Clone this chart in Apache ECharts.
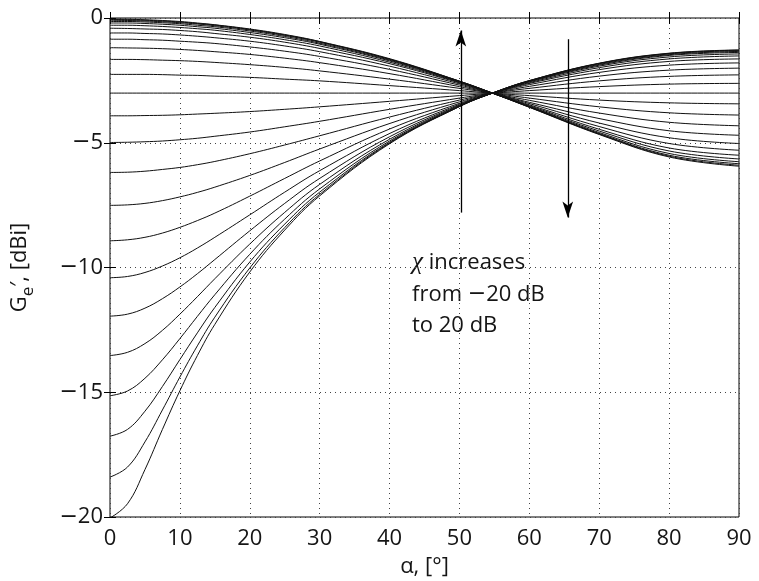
<!DOCTYPE html>
<html>
<head>
<meta charset="utf-8">
<script src="https://cdn.jsdelivr.net/npm/echarts@6/dist/echarts.min.js"></script>
<style>html,body{margin:0;padding:0;background:#fff}#c{width:759px;height:581px}</style>
</head>
<body>
<div id="c"></div>
<script>
// alpha sample points (degrees)
const alpha = [0, 2.5, 5, 7.5, 10, 12.5, 15, 20, 25, 30, 40, 50, 55, 60, 70, 80, 90];
// chi values in dB, one per curve
const chiDb = [-20, -18.3, -16.7, -15, -13.3, -11.7, -10, -8.3, -6.7, -5, -3.3, -1.7, 0,
               1.7, 3.3, 5, 6.7, 8.3, 10, 11.7, 13.3, 15, 16.7, 18.3, 20];
// G_e' values [dBi], one array per curve
const gM20_0 = [-20.04, -19.47, -18.10, -16.49, -14.94, -13.53, -12.28, -10.18, -8.50, -7.13, -5.04, -3.55, -2.98, -2.51, -1.81, -1.41, -1.28];
const gM18_3 = [-18.40, -18.00, -16.99, -15.71, -14.39, -13.14, -11.99, -10.02, -8.40, -7.07, -5.01, -3.55, -2.98, -2.51, -1.82, -1.42, -1.29];
const gM16_7 = [-16.76, -16.49, -15.76, -14.77, -13.69, -12.62, -11.60, -9.78, -8.26, -6.98, -4.98, -3.54, -2.98, -2.52, -1.83, -1.44, -1.31];
const gM15_0 = [-15.14, -14.95, -14.44, -13.70, -12.85, -11.96, -11.09, -9.47, -8.06, -6.85, -4.93, -3.53, -2.98, -2.53, -1.86, -1.47, -1.34];
const gM13_3 = [-13.53, -13.40, -13.05, -12.52, -11.87, -11.17, -10.45, -9.06, -7.79, -6.67, -4.86, -3.51, -2.98, -2.54, -1.89, -1.50, -1.38];
const gM11_7 = [-11.95, -11.87, -11.63, -11.25, -10.78, -10.25, -9.68, -8.53, -7.43, -6.43, -4.76, -3.49, -2.99, -2.56, -1.93, -1.56, -1.44];
const gM10_0 = [-10.41, -10.36, -10.20, -9.94, -9.61, -9.22, -8.79, -7.89, -6.98, -6.12, -4.63, -3.46, -2.99, -2.59, -1.99, -1.64, -1.52];
const gM08_3 = [-8.93, -8.89, -8.79, -8.62, -8.39, -8.12, -7.82, -7.14, -6.43, -5.73, -4.45, -3.42, -2.99, -2.62, -2.07, -1.74, -1.64];
const gM06_7 = [-7.51, -7.49, -7.43, -7.32, -7.17, -6.99, -6.78, -6.31, -5.79, -5.25, -4.23, -3.36, -2.99, -2.67, -2.18, -1.89, -1.80];
const gM05_0 = [-6.19, -6.18, -6.14, -6.07, -5.99, -5.88, -5.75, -5.44, -5.09, -4.72, -3.97, -3.29, -3.00, -2.74, -2.33, -2.09, -2.01];
const gM03_3 = [-4.99, -4.98, -4.96, -4.93, -4.88, -4.82, -4.74, -4.57, -4.36, -4.14, -3.66, -3.21, -3.00, -2.82, -2.52, -2.34, -2.28];
const gM01_7 = [-3.92, -3.92, -3.91, -3.90, -3.88, -3.85, -3.82, -3.75, -3.66, -3.56, -3.34, -3.11, -3.01, -2.91, -2.75, -2.65, -2.62];
const gP00_0 = [-3.01, -3.01, -3.01, -3.01, -3.01, -3.01, -3.01, -3.01, -3.01, -3.01, -3.01, -3.01, -3.01, -3.01, -3.01, -3.01, -3.01];
const gP01_7 = [-2.26, -2.26, -2.26, -2.27, -2.29, -2.30, -2.33, -2.38, -2.45, -2.52, -2.71, -2.91, -3.02, -3.11, -3.29, -3.40, -3.44];
const gP03_3 = [-1.66, -1.66, -1.67, -1.69, -1.71, -1.74, -1.78, -1.87, -1.98, -2.12, -2.45, -2.82, -3.02, -3.21, -3.56, -3.80, -3.89];
const gP05_0 = [-1.19, -1.20, -1.21, -1.23, -1.26, -1.30, -1.35, -1.46, -1.61, -1.79, -2.23, -2.75, -3.03, -3.30, -3.81, -4.18, -4.32];
const gP06_7 = [-0.85, -0.85, -0.87, -0.89, -0.93, -0.97, -1.02, -1.16, -1.33, -1.54, -2.06, -2.69, -3.03, -3.38, -4.03, -4.52, -4.70];
const gP08_3 = [-0.60, -0.60, -0.62, -0.64, -0.68, -0.73, -0.79, -0.93, -1.12, -1.35, -1.93, -2.64, -3.03, -3.43, -4.21, -4.80, -5.03];
const gP10_0 = [-0.41, -0.42, -0.44, -0.46, -0.50, -0.55, -0.62, -0.77, -0.97, -1.22, -1.83, -2.60, -3.03, -3.48, -4.35, -5.03, -5.30];
const gP11_7 = [-0.29, -0.29, -0.31, -0.34, -0.38, -0.43, -0.49, -0.66, -0.87, -1.12, -1.77, -2.58, -3.04, -3.51, -4.46, -5.21, -5.50];
const gP13_3 = [-0.20, -0.20, -0.22, -0.25, -0.29, -0.35, -0.41, -0.58, -0.79, -1.05, -1.72, -2.56, -3.04, -3.54, -4.53, -5.33, -5.65];
const gP15_0 = [-0.14, -0.14, -0.16, -0.19, -0.23, -0.29, -0.35, -0.52, -0.74, -1.01, -1.69, -2.55, -3.04, -3.55, -4.59, -5.43, -5.76];
const gP16_7 = [-0.09, -0.10, -0.12, -0.15, -0.19, -0.24, -0.31, -0.48, -0.70, -0.97, -1.66, -2.54, -3.04, -3.57, -4.63, -5.50, -5.84];
const gP18_3 = [-0.06, -0.07, -0.09, -0.12, -0.16, -0.22, -0.28, -0.46, -0.68, -0.95, -1.65, -2.53, -3.04, -3.57, -4.65, -5.54, -5.90];
const gP20_0 = [-0.04, -0.05, -0.07, -0.10, -0.14, -0.20, -0.27, -0.44, -0.66, -0.94, -1.63, -2.53, -3.04, -3.58, -4.67, -5.57, -5.94];
const curves = [gM20_0, gM18_3, gM16_7, gM15_0, gM13_3, gM11_7, gM10_0, gM08_3, gM06_7, gM05_0, gM03_3, gM01_7,
                gP00_0, gP01_7, gP03_3, gP05_0, gP06_7, gP08_3, gP10_0, gP11_7, gP13_3, gP15_0, gP16_7, gP18_3, gP20_0];
const xTicks = [0, 10, 20, 30, 40, 50, 60, 70, 80, 90];
const yTicks = [-20, -15, -10, -5, 0];

const FONT = 'Open Sans';
const FS = 22;
const TXT = '#151515';
// negative numbers drawn with a long minus sign
const fmt = v => (v < 0 ? '{m|\u2212}' + Math.abs(v) : String(v));
const minusRich = { m: { fontFamily: 'DejaVu Sans', fontSize: FS, color: TXT } };

const series = curves.map((vals, i) => ({
  type: 'line',
  name: 'chi ' + chiDb[i] + ' dB',
  data: alpha.map((a, j) => [a, vals[j]]),
  showSymbol: false,
  smooth: 0.4,
  lineStyle: { color: '#111', width: 1 },
  silent: true,
  z: 3
}));

series.push({
  type: 'line', data: [], silent: true,
  markLine: {
    silent: true, animation: false,
    symbol: ['none', 'arrow'], symbolSize: [8, 16],
    label: { show: false },
    lineStyle: { color: '#000', width: 1.3, type: 'solid' },
    data: [
      [{ coord: [50.2, -7.8] }, { coord: [50.2, -0.5] }],
      [{ coord: [65.5, -0.85] }, { coord: [65.5, -8.0] }]
    ]
  }
});

const chart = echarts.init(document.getElementById('c'), null, { renderer: 'canvas' });
chart.setOption({
  animation: false,
  backgroundColor: '#fff',
  grid: { left: 110, right: 20, top: 18, bottom: 64, outerBoundsMode: 'none', containLabel: false,
          show: true, borderColor: '#000', borderWidth: 1, backgroundColor: 'transparent' },
  xAxis: [{
    type: 'value', min: 0, max: 90, interval: 10, position: 'bottom',
    name: 'α, [°]', nameLocation: 'middle', nameGap: 39,
    nameTextStyle: { fontFamily: FONT, fontSize: FS, color: TXT },
    axisLine: { show: false },
    axisTick: { show: true, inside: true, length: 6, lineStyle: { color: '#000' } },
    axisLabel: { fontFamily: FONT, fontSize: FS, color: TXT, margin: 11, rich: minusRich,
                 formatter: v => (xTicks.includes(v) ? fmt(v) : '') },
    splitLine: { show: true, lineStyle: { color: '#444', width: 1, type: [1, 4] } }
  }, {
    type: 'value', min: 0, max: 90, interval: 10, position: 'top',
    axisLine: { show: false }, axisLabel: { show: false }, splitLine: { show: false },
    axisTick: { show: true, inside: true, length: 6, lineStyle: { color: '#000' } }
  }],
  yAxis: [{
    type: 'value', min: -20, max: 0, interval: 5, position: 'left',
    name: '{a|G}{s|e}{a|′, [dBi]}', nameLocation: 'middle', nameGap: 73, nameRotate: 90,
    nameTextStyle: {
      fontFamily: FONT, fontSize: FS, color: TXT,
      rich: {
        a: { fontFamily: FONT, fontSize: FS, color: TXT, lineHeight: 34, verticalAlign: 'middle' },
        s: { fontFamily: FONT, fontSize: 17, color: TXT, lineHeight: 34, verticalAlign: 'bottom', padding: [16, 0, 0, 0] }
      }
    },
    axisLine: { show: false },
    axisTick: { show: true, inside: true, length: 6, lineStyle: { color: '#000' } },
    axisLabel: { fontFamily: FONT, fontSize: FS, color: TXT, margin: 7, rich: minusRich,
                 formatter: v => (yTicks.includes(v) ? fmt(v) : '') },
    splitLine: { show: true, lineStyle: { color: '#444', width: 1, type: [1, 4] } }
  }, {
    type: 'value', min: -20, max: 0, interval: 5, position: 'right',
    axisLine: { show: false }, axisLabel: { show: false }, splitLine: { show: false },
    axisTick: { show: true, inside: true, length: 6, lineStyle: { color: '#000' } }
  }],
  graphic: [{
    type: 'text', left: 412, top: 247, silent: true,
    style: {
      text: '{g|χ} increases\nfrom {m|\u2212}20 dB\nto 20 dB',
      font: FS + 'px "Open Sans"', fill: TXT, lineHeight: 31.5,
      rich: {
        g: { fontFamily: 'Liberation Serif', fontStyle: 'italic', fontSize: 25, fill: TXT, lineHeight: 31.5 },
        m: { fontFamily: 'DejaVu Sans', fontSize: FS, fill: TXT, lineHeight: 31.5 }
      }
    }
  }],
  series: series
});
</script>
</body>
</html>
